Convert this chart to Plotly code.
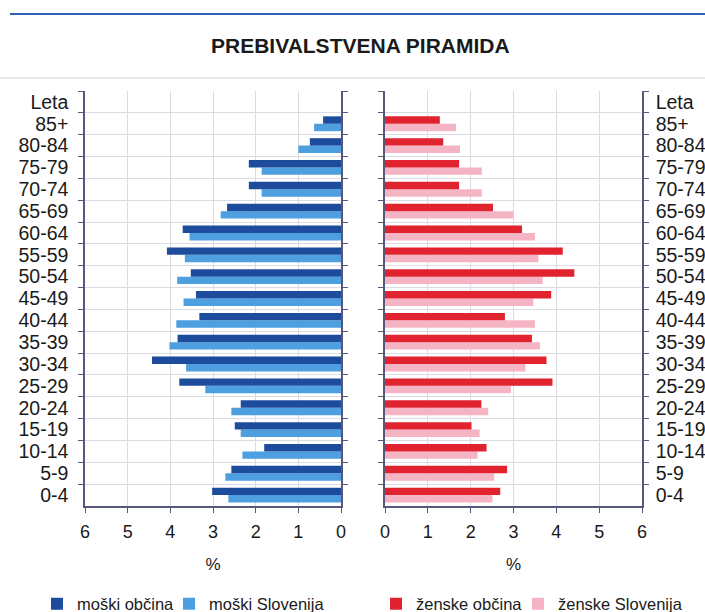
import plotly.graph_objects as go

# ---------------- data ----------------
age_groups = ["0-4", "5-9", "10-14", "15-19", "20-24", "25-29", "30-34", "35-39",
              "40-44", "45-49", "50-54", "55-59", "60-64", "65-69", "70-74",
              "75-79", "80-84", "85+"]
top_label = "Leta"
male_obcina = [3.02, 2.57, 1.80, 2.49, 2.35, 3.79, 4.43, 3.83, 3.32, 3.40,
               3.52, 4.08, 3.71, 2.67, 2.16, 2.16, 0.73, 0.42]
male_slovenija = [2.64, 2.71, 2.31, 2.35, 2.57, 3.18, 3.63, 4.02, 3.86, 3.69,
                  3.84, 3.66, 3.55, 2.82, 1.86, 1.86, 1.00, 0.63]
female_obcina = [2.69, 2.85, 2.37, 2.02, 2.25, 3.91, 3.77, 3.43, 2.80, 3.88,
                 4.42, 4.15, 3.20, 2.52, 1.73, 1.73, 1.36, 1.28]
female_slovenija = [2.51, 2.55, 2.16, 2.21, 2.41, 2.94, 3.28, 3.62, 3.50, 3.46,
                    3.68, 3.58, 3.50, 3.00, 2.26, 2.26, 1.75, 1.66]
x_tick_values = [0, 1, 2, 3, 4, 5, 6]
title_text = "PREBIVALSTVENA PIRAMIDA"
axis_unit = "%"
legend_names = ["moški občina", "moški Slovenija", "ženske občina", "ženske Slovenija"]

# ---------------- style ----------------
W, H = 705, 612
FONT = "Liberation Sans"
C_MD, C_ML = "#1e4c9c", "#4e9fe0"
C_FD, C_FL = "#e1222f", "#f5b4c4"
AXC = "#55587a"
GRID = "#dadbe3"
TXT = "#1a1a1a"

categories = age_groups + [top_label]

fig = go.Figure()

# light bar first -> drawn lower within each group; dark on top
fig.add_trace(go.Bar(y=age_groups, x=male_slovenija, orientation="h", name=legend_names[1],
                     marker=dict(color=C_ML, line=dict(width=0)), legend="legend2",
                     xaxis="x", yaxis="y"))
fig.add_trace(go.Bar(y=age_groups, x=male_obcina, orientation="h", name=legend_names[0],
                     marker=dict(color=C_MD, line=dict(width=0)), legend="legend",
                     xaxis="x", yaxis="y"))
fig.add_trace(go.Bar(y=age_groups, x=female_slovenija, orientation="h", name=legend_names[3],
                     marker=dict(color=C_FL, line=dict(width=0)), legend="legend4",
                     xaxis="x2", yaxis="y2"))
fig.add_trace(go.Bar(y=age_groups, x=female_obcina, orientation="h", name=legend_names[2],
                     marker=dict(color=C_FD, line=dict(width=0)), legend="legend3",
                     xaxis="x2", yaxis="y2"))

ydom = [1 - 506 / H, 1 - 91 / H]
xdom1 = [85 / W, 341 / W]
xdom2 = [385 / W, 642 / W]

xcommon = dict(tickmode="array", tickvals=x_tick_values, ticks="outside", ticklen=5,
               tickcolor=AXC, showline=True, linecolor=AXC, linewidth=1.5,
               showgrid=True, gridcolor=GRID, gridwidth=1, zeroline=False,
               ticklabelstandoff=4,
               tickfont=dict(family=FONT, size=18, color=TXT),
               title=dict(text=axis_unit, font=dict(family=FONT, size=17, color=TXT), standoff=17),
               automargin=False, fixedrange=True)
ycommon = dict(type="category", categoryorder="array", categoryarray=categories,
               tickmode="array", tickvals=categories, ticktext=categories,
               range=[-0.5, len(categories) - 0.5], tickson="boundaries",
               ticks="outside", ticklen=5, tickcolor=AXC, showline=True, linecolor=AXC,
               linewidth=1.5, mirror="ticks", showgrid=True, gridcolor=GRID, gridwidth=1,
               tickfont=dict(family=FONT, size=19.5, color=TXT),
               automargin=False, fixedrange=True)


def legend_at(xpx):
    return dict(orientation="h", x=xpx / W, xanchor="left", y=1 - 604 / H, yanchor="middle",
                font=dict(family=FONT, size=16.5, color=TXT), bgcolor="rgba(0,0,0,0)",
                itemclick=False, itemdoubleclick=False)


fig.update_layout(
    width=W, height=H,
    autosize=False,
    margin=dict(l=0, r=0, t=0, b=0, pad=0, autoexpand=False),
    paper_bgcolor="white", plot_bgcolor="white",
    barmode="group", bargap=0.32, bargroupgap=0.0,
    font=dict(family=FONT, color=TXT),
    xaxis=dict(domain=xdom1, range=[6, 0], anchor="y", **xcommon),
    xaxis2=dict(domain=xdom2, range=[0, 6], anchor="y2", **xcommon),
    yaxis=dict(domain=ydom, anchor="x", side="left", ticklabelstandoff=11, **ycommon),
    yaxis2=dict(domain=ydom, anchor="x2", side="right", ticklabelstandoff=8, **ycommon),
    legend=legend_at(37),
    legend2=legend_at(169),
    legend3=legend_at(376),
    legend4=legend_at(518),
    shapes=[
        dict(type="line", xref="paper", yref="paper", x0=10 / W, x1=1, y0=1 - 14 / H, y1=1 - 14 / H,
             line=dict(color="#2d63b2", width=2)),
        dict(type="line", xref="paper", yref="paper", x0=0, x1=1, y0=1 - 78 / H, y1=1 - 78 / H,
             line=dict(color="#d4d4d4", width=1)),
    ],
    annotations=[
        dict(text="<b>" + title_text + "</b>", xref="paper", yref="paper", x=360 / W, y=1 - 46 / H,
             xanchor="center", yanchor="middle", showarrow=False,
             font=dict(family=FONT, size=21, color=TXT)),
    ],
    showlegend=True,
)

fig.write_html("out.html",
               config={"displayModeBar": False},
               post_script="document.body.style.margin='0';document.body.style.padding='0';"
                           "document.body.style.overflow='hidden';")
